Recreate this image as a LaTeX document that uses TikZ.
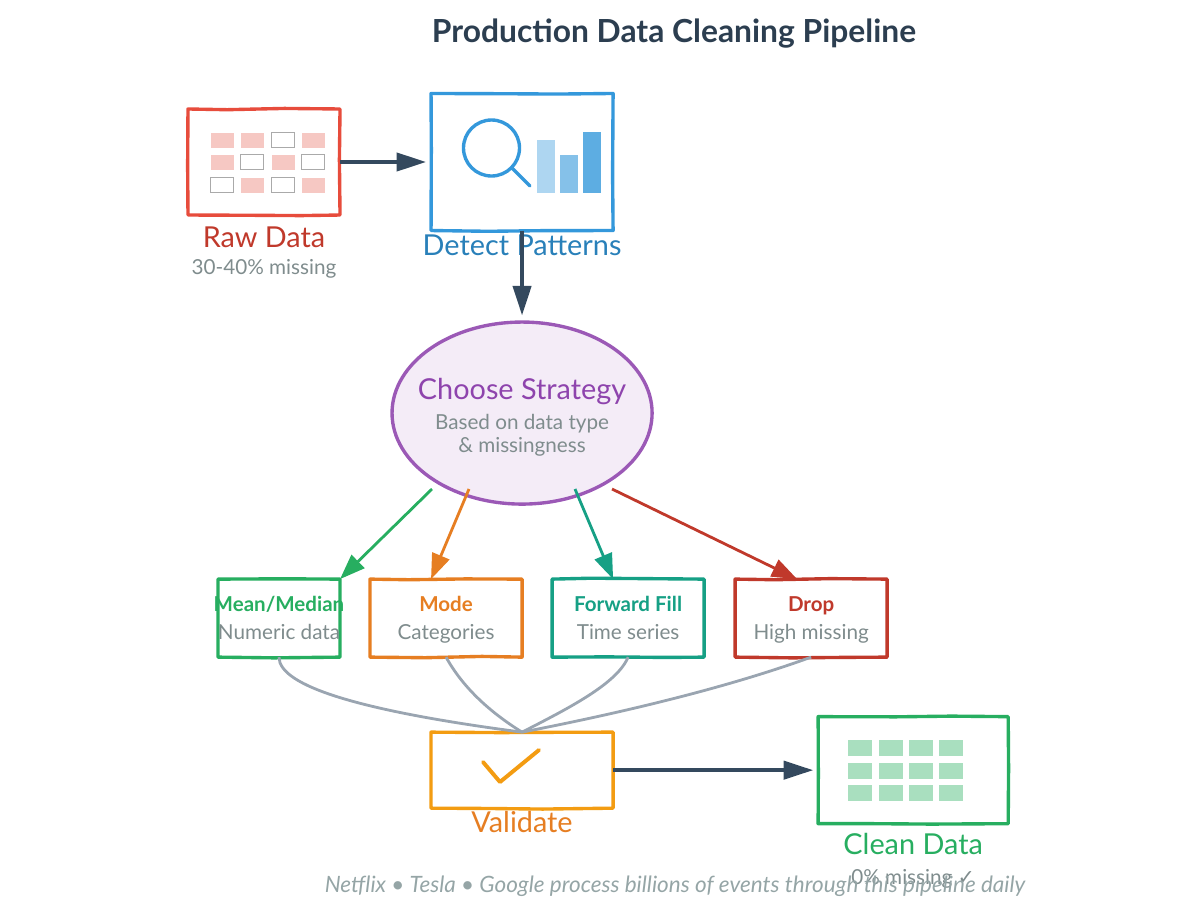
\documentclass[tikz,border=0pt]{standalone}
\usepackage{fontspec}
\setmainfont{Lato}
\newfontfamily\checkfont{DejaVu Sans}
\usetikzlibrary{shapes.geometric, arrows.meta, positioning, calc, decorations.pathmorphing}

\definecolor{rawred}{HTML}{E74C3C}
\definecolor{darkred}{HTML}{C0392B}
\definecolor{detectblue}{HTML}{3498DB}
\definecolor{darkblue}{HTML}{2980B9}
\definecolor{stratpurple}{HTML}{9B59B6}
\definecolor{darkpurple}{HTML}{8E44AD}
\definecolor{stratfill}{HTML}{F4ECF7}
\definecolor{meangreen}{HTML}{27AE60}
\definecolor{modeorange}{HTML}{E67E22}
\definecolor{fillteal}{HTML}{16A085}
\definecolor{valorange}{HTML}{F39C12}
\definecolor{arrowdark}{HTML}{34495E}
\definecolor{titledark}{HTML}{2C3E50}
\definecolor{subgray}{HTML}{7F8C8D}
\definecolor{footgray}{HTML}{95A5A6}
\definecolor{mergegray}{HTML}{9AA5B1}
\definecolor{redcell}{HTML}{F6C8C3}
\definecolor{greencell}{HTML}{A9DFBF}
\definecolor{cellgray}{HTML}{AAAAAA}

\begin{document}
\begin{tikzpicture}[
    x=0.025cm, y=-0.025cm,
    sketch/.style={rectangle, inner sep=0pt, outer sep=0pt, line width=2.4pt, line join=round, fill=white,
        decorate, decoration={random steps, segment length=40pt, amplitude=0.7pt}},
    bigbox/.style={sketch, minimum width=3.8cm, minimum height=1.95cm},
    title/.style={font=\fontsize{22.6}{26}\selectfont\bfseries, text=titledark},
    biglabel/.style={font=\fontsize{20.5}{23}\selectfont},
    sublabel/.style={font=\fontsize{14.7}{17}\selectfont, text=subgray, text height=11pt, text depth=3pt},
    methodlabel/.style={font=\fontsize{14.6}{17}\selectfont\bfseries, text height=11pt, text depth=3pt},
    arrow/.style={line width=2.4pt, ->, >={Stealth[length=21pt, width=13pt, inset=0pt]}, draw=arrowdark},
    split/.style={line width=2pt, ->, >={Stealth[length=18pt, width=13pt, inset=0pt]}},
    merge/.style={line width=2pt, draw=mergegray}
]
\useasboundingbox (0,0) rectangle (1185,896);

\node (title) [title] at (674,34) {Production Data Cleaning Pipeline};

% top row
\node (rawdata) [sketch, draw=rawred, minimum width=3.8cm, minimum height=2.65cm] at (264,162) {};
\node (detect) [sketch, draw=detectblue, minimum width=4.55cm, minimum height=3.425cm, right of=rawdata, node distance=6.45cm] {};
\node (rawlabel) [biglabel, text=darkred, below of=rawdata, node distance=1.87cm] {Raw Data};
\node (rawsub) [sublabel, below of=rawlabel, node distance=0.8cm] {30-40\% missing};
\node (detectlabel) [biglabel, text=darkblue, below of=detect, node distance=2.075cm] {Detect Patterns};

% strategy
\node (strategy) [ellipse, inner sep=0pt, draw=stratpurple, fill=stratfill, line width=2.4pt, minimum width=6.5cm, minimum height=4.55cm, below of=detect, node distance=6.275cm] {};
\node (stratlabel) [biglabel, text=darkpurple, above of=strategy, node distance=0.53cm] {Choose Strategy};
\node (stratsub) [font=\fontsize{14.7}{16.5}\selectfont, text=subgray, align=center, below of=strategy, node distance=0.55cm] {Based on data type\\\& missingness};

% four methods
\node (modebox) [bigbox, draw=modeorange, below of=strategy, node distance=5.125cm, xshift=-1.9cm] {};
\node (meanbox) [bigbox, draw=meangreen, minimum width=3.05cm, left of=modebox, node distance=4.175cm] {};
\node (fillbox) [bigbox, draw=fillteal, right of=modebox, node distance=4.55cm] {};
\node (dropbox) [bigbox, draw=darkred, right of=fillbox, node distance=4.575cm] {};

\node (meanlabel) [methodlabel, text=meangreen, above of=meanbox, node distance=0.3cm] {Mean/Median};
\node (meansub) [sublabel, below of=meanbox, node distance=0.4cm] {Numeric data};
\node (modelabel) [methodlabel, text=modeorange, above of=modebox, node distance=0.3cm] {Mode};
\node (modesub) [sublabel, below of=modebox, node distance=0.4cm] {Categories};
\node (filllabel) [methodlabel, text=fillteal, above of=fillbox, node distance=0.3cm] {Forward Fill};
\node (fillsub) [sublabel, below of=fillbox, node distance=0.4cm] {Time series};
\node (droplabel) [methodlabel, text=darkred, above of=dropbox, node distance=0.3cm] {Drop};
\node (dropsub) [sublabel, below of=dropbox, node distance=0.4cm] {High missing};

% bottom row
\node (validate) [sketch, draw=valorange, minimum width=4.55cm, minimum height=1.9cm, below of=strategy, node distance=8.925cm] {};
\node (cleandata) [sketch, draw=meangreen, minimum width=4.75cm, minimum height=2.675cm, right of=validate, node distance=9.775cm] {};
\node (vallabel) [biglabel, text=modeorange, below of=validate, node distance=1.3cm] {Validate};
\node (cleanlabel) [biglabel, text=meangreen, below of=cleandata, node distance=1.85cm] {Clean Data};
\node (cleansub) [sublabel, below of=cleanlabel, node distance=0.87cm] {0\% missing {\checkfont ✓}};
\node (footer) [font=\fontsize{16}{18}\selectfont\itshape, text=footgray] at (675,886) {Netflix • Tesla • Google process billions of events through this pipeline daily};

% icons
\foreach \cx/\cy/\kind in {222/140/1, 252/140/1, 283/140/0, 313/140/1,
                           222/162/1, 252/162/0, 283/162/1, 313/162/0,
                           222/185/0, 252/185/1, 283/185/0, 313/185/1} {
    \ifnum\kind=1
        \fill[redcell] (\cx-11.5,\cy-7.5) rectangle (\cx+11.5,\cy+7.5);
    \else
        \draw[cellgray, line width=1.4pt] (\cx-11.5,\cy-7.5) rectangle (\cx+11.5,\cy+7.5);
    \fi
}
\draw[detectblue, line width=2.4pt] (491.5,148) circle (0.7cm);
\draw[detectblue, line width=2.4pt, line cap=round] (512,168) -- (530,186);
\fill[detectblue!40] (537,140) rectangle (555,193);
\fill[detectblue!60] (560,155) rectangle (578,193);
\fill[detectblue!80] (583,132) rectangle (601,193);
\draw[valorange, line width=2.8pt, line cap=round, line join=round] (483,762) -- (500,782) -- (539,750);
\foreach \cx in {860,891,921,951} {
    \foreach \cy in {748,771,793} {
        \fill[greencell] (\cx-12,\cy-8) rectangle (\cx+12,\cy+8);
    }
}

% connectors
\coordinate (detectin) at ($(detect.west)+(-5,0)$);
\coordinate (stratin) at ($(strategy.north)+(0,-5)$);
\coordinate (cleanin) at ($(cleandata.west)+(-5,0)$);
\draw [arrow] (rawdata.east) -- (detectin);
\draw [arrow] (detect.south) -- (stratin);
\draw [arrow] (validate.east) -- (cleanin);

\coordinate (meanout) at (432,489);
\coordinate (modeout) at (469,489);
\coordinate (fillout) at (575,489);
\coordinate (dropout) at (612,489);
\coordinate (modein) at ($(modebox.north)+(-15,0)$);
\coordinate (fillin) at ($(fillbox.north)+(-15,0)$);
\coordinate (dropin) at ($(dropbox.north)+(-14,0)$);
\draw [split, meangreen] (meanout) -- (meanbox.north east);
\draw [split, modeorange] (modeout) -- (modein);
\draw [split, fillteal] (fillout) -- (fillin);
\draw [split, darkred] (dropout) -- (dropin);

\draw [merge] (meanbox.south) .. controls (279,686) and (360,711) .. (validate.north);
\draw [merge] (modebox.south) .. controls (462,686) and (488,711) .. (validate.north);
\draw [merge] (fillbox.south) .. controls (617,684) and (567,709) .. (validate.north);
\draw [merge] (dropbox.south) .. controls (737,684) and (641,709) .. (validate.north);

\end{tikzpicture}
\end{document}
